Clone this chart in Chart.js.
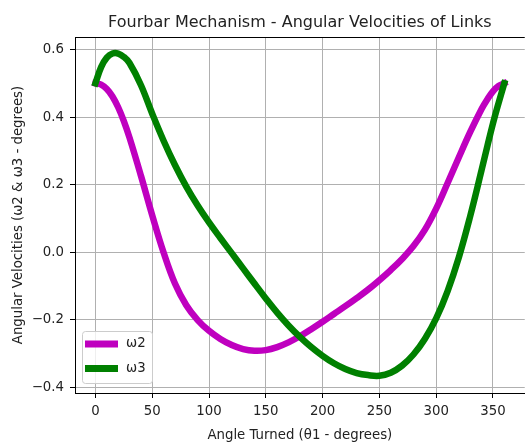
<html>

<head>
    <script type="text/javascript" src="https://cdn.jsdelivr.net/npm/chart.js@4/dist/chart.umd.min.js"></script>
    <style>
        body { margin: 0; background: #ffffff; }
    </style>
</head>

<body>
    <canvas id="velocities" width="528" height="443"></canvas>

    <script type="text/javascript">

        var chartTitle = "Fourbar Mechanism - Angular Velocities of Links";
        var xLabel = "Angle Turned (\u03b81 - degrees)";
        var yLabel = "Angular Velocities (\u03c92 & \u03c93 - degrees)";

        // crank angle theta1, degrees
        var angles = [0, 5, 10, 15, 20, 25, 30, 40, 50, 60, 70, 80, 90, 100, 110, 120, 130, 140, 150, 160,
                      170, 180, 190, 200, 210, 220, 230, 240, 250, 260, 270, 280, 290, 300, 310, 320, 330,
                      340, 345, 350, 355, 360];

        var omega2 = [0.500, 0.496, 0.483, 0.461, 0.429, 0.388, 0.339, 0.227, 0.109, -0.001, -0.093, -0.157,
                      -0.201, -0.233, -0.257, -0.275, -0.287, -0.292, -0.290, -0.281, -0.267, -0.249, -0.228,
                      -0.206, -0.183, -0.160, -0.136, -0.111, -0.083, -0.053, -0.020, 0.018, 0.066, 0.129,
                      0.204, 0.281, 0.356, 0.424, 0.452, 0.476, 0.492, 0.500];

        var omega3 = [0.500, 0.548, 0.576, 0.588, 0.588, 0.578, 0.560, 0.495, 0.410, 0.330, 0.258, 0.194,
                      0.138, 0.088, 0.042, -0.003, -0.048, -0.093, -0.137, -0.179, -0.217, -0.251, -0.281,
                      -0.307, -0.329, -0.346, -0.358, -0.364, -0.366, -0.357, -0.336, -0.303, -0.257, -0.196,
                      -0.116, -0.015, 0.107, 0.243, 0.313, 0.381, 0.442, 0.500];

        var seriesLabels = ["\u03c92", "\u03c93"];
        var seriesColors = ["#bf00bf", "#008000"];

        var xTicks = [0, 50, 100, 150, 200, 250, 300, 350];
        var yTicks = [-0.4, -0.2, 0.0, 0.2, 0.4, 0.6];

        var textColor = "#222222";
        Chart.defaults.font.family = "'DejaVu Sans', sans-serif";

        function toPoints(values) {
            return angles.map(function(a, i) { return { x: a, y: values[i] }; });
        }

        function lineSet(label, values, color) {
            return {
                label: label,
                data: toPoints(values),
                borderColor: color,
                backgroundColor: color,
                borderWidth: 6.5,
                borderCapStyle: 'square',
                borderJoinStyle: 'round',
                pointRadius: 0,
                fill: false,
                tension: 0.4
            };
        }

        // title over the plot box, top spine and a matplotlib style legend
        var mplDecor = {
            id: 'mplDecor',
            afterDraw: function(chart) {
                var ctx = chart.ctx;
                var area = chart.chartArea;
                ctx.save();

                ctx.strokeStyle = '#000000';
                ctx.lineWidth = 1;
                ctx.beginPath();
                ctx.moveTo(area.left, Math.round(area.top) + 0.5);
                ctx.lineTo(area.right, Math.round(area.top) + 0.5);
                ctx.stroke();

                ctx.fillStyle = textColor;
                ctx.font = "16px 'DejaVu Sans'";
                ctx.textAlign = 'center';
                ctx.textBaseline = 'alphabetic';
                ctx.fillText(chartTitle, (area.left + area.right) / 2, area.top - 10);

                // legend box, lower left
                var bx = area.left + 7, bw = 70, bh = 52;
                var by = area.bottom - 10 - bh;
                ctx.fillStyle = 'rgba(255,255,255,0.8)';
                ctx.strokeStyle = '#cccccc';
                ctx.beginPath();
                ctx.roundRect(bx + 0.5, by + 0.5, bw, bh, 3);
                ctx.fill();
                ctx.stroke();

                ctx.font = "13.3px 'DejaVu Sans'";
                ctx.textAlign = 'left';
                ctx.textBaseline = 'middle';
                chart.data.datasets.forEach(function(ds, i) {
                    var ly = by + 13 + i * 24.5;
                    ctx.strokeStyle = ds.borderColor;
                    ctx.lineWidth = 7;
                    ctx.lineCap = 'butt';
                    ctx.beginPath();
                    ctx.moveTo(bx + 3, ly);
                    ctx.lineTo(bx + 36, ly);
                    ctx.stroke();
                    ctx.fillStyle = textColor;
                    ctx.fillText(ds.label, bx + 44, ly);
                });

                ctx.restore();
            }
        };

        var ctx = document.getElementById('velocities').getContext('2d');
        var chart = new Chart(ctx, {
            type: 'line',
            data: {
                datasets: [
                    lineSet(seriesLabels[0], omega2, seriesColors[0]),
                    lineSet(seriesLabels[1], omega3, seriesColors[1])
                ]
            },
            options: {
                responsive: false,
                animation: false,
                devicePixelRatio: 1,
                layout: { padding: { top: 37, right: 0, bottom: 0, left: 0 } },
                plugins: {
                    legend: { display: false },
                    title: { display: false },
                    tooltip: { enabled: false }
                },
                scales: {
                    x: {
                        type: 'linear',
                        min: -18,
                        max: 378,
                        afterBuildTicks: function(scale) {
                            scale.ticks = xTicks.map(function(v) { return { value: v }; });
                        },
                        afterFit: function(scale) { scale.height = 50; },
                        ticks: {
                            color: textColor,
                            font: { size: 13.3, lineHeight: 1.1 },
                            padding: 6,
                            maxRotation: 0,
                            autoSkip: false,
                            callback: function(v) { return String(v); }
                        },
                        grid: { color: '#b0b0b0', lineWidth: 1, tickColor: '#000000', tickLength: 5 },
                        border: { color: '#000000', width: 1 },
                        title: {
                            display: true,
                            text: xLabel,
                            color: textColor,
                            font: { size: 13.3, lineHeight: 1.1 },
                            padding: { top: 0, bottom: 0 }
                        }
                    },
                    y: {
                        type: 'linear',
                        min: -0.417,
                        max: 0.637,
                        afterBuildTicks: function(scale) {
                            scale.ticks = yTicks.map(function(v) { return { value: v }; });
                        },
                        afterFit: function(scale) { scale.width = 75; },
                        ticks: {
                            color: textColor,
                            font: { size: 13.3, lineHeight: 1.1 },
                            padding: 6,
                            callback: function(v) {
                                return (v < -1e-9 ? '\u2212' : '') + Math.abs(v).toFixed(1);
                            }
                        },
                        grid: { color: '#b0b0b0', lineWidth: 1, tickColor: '#000000', tickLength: 5 },
                        border: { color: '#000000', width: 1 },
                        title: {
                            display: true,
                            text: yLabel,
                            color: textColor,
                            font: { size: 13.3, lineHeight: 1.1 },
                            padding: { top: 11, bottom: 0 }
                        }
                    }
                }
            },
            plugins: [mplDecor]
        });

        // draw omega3 above omega2, as in the original plot
        chart.data.datasets[0].order = 1;
        chart.data.datasets[1].order = 0;
        chart.update();

    </script>

</body>

</html>
